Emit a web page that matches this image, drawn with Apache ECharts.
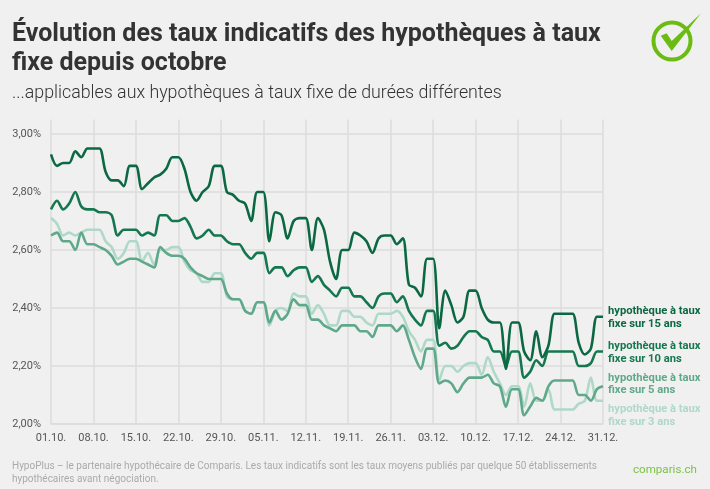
<!DOCTYPE html>
<html>
<head>
<meta charset="utf-8">
<style>
  html, body { margin: 0; padding: 0; background: #f0f0f0; }
  #chart { width: 710px; height: 489px; }
</style>
<script src="https://cdn.jsdelivr.net/npm/echarts@6/dist/echarts.min.js"></script>
</head>
<body>
<div id="chart"></div>
<script>
// 92 days, 01.10. to 31.12.
var months = [['10', 31], ['11', 30], ['12', 31]];
var days = [];
months.forEach(function (m) {
  for (var d = 1; d <= m[1]; d++) {
    days.push((d < 10 ? '0' + d : d) + '.' + m[0] + '.');
  }
});

var y15 = [
  2.93,2.89,2.90,2.90,2.94,2.92,2.95,2.95,2.95,2.87,
  2.84,2.84,2.82,2.89,2.89,2.81,2.83,2.85,2.86,2.88,
  2.92,2.92,2.88,2.80,2.77,2.80,2.82,2.89,2.89,2.80,
  2.79,2.77,2.76,2.70,2.80,2.80,2.63,2.73,2.72,2.64,
  2.70,2.71,2.71,2.60,2.71,2.67,2.56,2.50,2.60,2.60,
  2.66,2.65,2.63,2.59,2.64,2.65,2.65,2.62,2.64,2.48,
  2.47,2.44,2.57,2.57,2.33,2.46,2.41,2.35,2.37,2.46,
  2.46,2.40,2.36,2.35,2.35,2.19,2.35,2.35,2.25,2.22,
  2.32,2.23,2.27,2.38,2.38,2.38,2.38,2.28,2.24,2.26,2.37,2.37
];
var y10 = [
  2.74,2.77,2.74,2.76,2.80,2.75,2.74,2.74,2.73,2.73,
  2.72,2.65,2.67,2.67,2.67,2.65,2.66,2.65,2.72,2.72,
  2.70,2.70,2.71,2.68,2.64,2.65,2.67,2.65,2.65,2.63,
  2.62,2.62,2.59,2.57,2.59,2.59,2.52,2.54,2.54,2.51,
  2.53,2.54,2.54,2.49,2.51,2.48,2.46,2.44,2.47,2.47,
  2.44,2.44,2.42,2.40,2.44,2.45,2.45,2.42,2.44,2.39,
  2.36,2.34,2.39,2.39,2.27,2.28,2.26,2.27,2.30,2.32,
  2.32,2.30,2.29,2.25,2.25,2.20,2.25,2.25,2.16,2.18,
  2.22,2.20,2.25,2.25,2.25,2.25,2.25,2.20,2.20,2.21,2.25,2.25
];
var y5 = [
  2.65,2.66,2.63,2.63,2.60,2.66,2.62,2.62,2.61,2.60,
  2.58,2.55,2.56,2.57,2.57,2.56,2.55,2.54,2.61,2.59,
  2.58,2.58,2.57,2.54,2.52,2.51,2.50,2.50,2.50,2.45,
  2.43,2.43,2.39,2.38,2.42,2.42,2.35,2.39,2.36,2.38,
  2.43,2.41,2.41,2.36,2.36,2.34,2.33,2.32,2.34,2.34,
  2.34,2.32,2.32,2.30,2.34,2.34,2.34,2.32,2.34,2.29,
  2.23,2.19,2.26,2.26,2.14,2.15,2.14,2.11,2.14,2.16,
  2.16,2.16,2.17,2.14,2.13,2.06,2.12,2.12,2.03,2.06,
  2.09,2.08,2.13,2.15,2.15,2.15,2.15,2.10,2.10,2.08,2.12,2.13
];
var y3 = [
  2.71,2.69,2.65,2.66,2.65,2.66,2.67,2.67,2.67,2.63,
  2.61,2.57,2.59,2.63,2.63,2.56,2.59,2.55,2.60,2.60,
  2.61,2.61,2.56,2.53,2.52,2.49,2.49,2.52,2.52,2.44,
  2.43,2.43,2.39,2.38,2.42,2.42,2.34,2.39,2.40,2.39,
  2.45,2.44,2.44,2.38,2.41,2.38,2.34,2.34,2.39,2.39,
  2.37,2.37,2.35,2.34,2.38,2.38,2.38,2.39,2.37,2.32,
  2.29,2.25,2.29,2.29,2.15,2.20,2.20,2.18,2.20,2.21,
  2.21,2.17,2.23,2.18,2.14,2.10,2.13,2.13,2.06,2.14,
  2.08,2.08,2.12,2.05,2.05,2.05,2.05,2.07,2.08,2.16,2.08,2.08
];

var font = 'Roboto';
var chart = echarts.init(document.getElementById('chart'), null, { renderer: 'canvas' });

// one line with its end label, the label is pushed off the line end a bit
function line(name, data, color, dy) {
  return {
    name: name,
    type: 'line',
    data: data,
    symbol: 'none',
    smooth: 0.3,
    lineStyle: { width: 2.6, color: color },
    endLabel: {
      show: true,
      formatter: name,
      offset: [-3, dy],
      color: color,
      fontFamily: font,
      fontWeight: 'bold',
      fontSize: 11.2,
      lineHeight: 12.5,
      align: 'left'
    }
  };
}

var option = {
  backgroundColor: '#f0f0f0',
  animation: false,
  title: [
    { text: 'Évolution des taux indicatifs des hypothèques à taux\nfixe depuis octobre', left: 7, top: 15,
      textStyle: { fontFamily: font, fontWeight: 'bold', fontSize: 25, lineHeight: 29, color: '#333' } },
    { text: '...applicables aux hypothèques à taux fixe de durées différentes', left: 7, top: 80,
      textStyle: { fontFamily: font, fontWeight: 300, fontSize: 17.8, color: '#333' } },
    { text: 'HypoPlus – le partenaire hypothécaire de Comparis. Les taux indicatifs sont les taux moyens publiés par quelque 50 établissements\nhypothécaires avant négociation.', left: 7, top: 455,
      textStyle: { fontFamily: font, fontWeight: 'normal', fontSize: 10, lineHeight: 13, color: '#aaa' } },
    { text: 'comparis.ch', left: 628, top: 459,
      textStyle: { fontFamily: font, fontWeight: 'normal', fontSize: 11.6, color: '#7cc242' } }
  ],
  graphic: [
    { type: 'circle', shape: { cx: 672, cy: 41, r: 18.5 }, style: { fill: 'none', stroke: '#6cbb12', lineWidth: 4 } },
    { type: 'polygon', shape: { points: [[660.7, 35.7], [666.7, 33.3], [671.7, 41], [701, 13.3], [671.7, 51]] }, style: { fill: '#6cbb12' } }
  ],
  grid: { left: 51, right: 107, top: 119.5, bottom: 65 },
  xAxis: {
    type: 'category',
    data: days,
    boundaryGap: false,
    axisLine: { show: true, lineStyle: { color: '#dcdcdc', width: 1.5 } },
    axisTick: { show: false },
    axisLabel: { interval: 6, margin: 9, fontFamily: font, fontSize: 11, color: '#555' },
    splitLine: { show: true, interval: 6, lineStyle: { color: '#dcdcdc', width: 1.5 } }
  },
  yAxis: {
    type: 'value',
    min: 2,
    max: 3.05,
    interval: 0.2,
    axisLine: { show: false },
    axisTick: { show: false },
    axisLabel: {
      showMaxLabel: false,
      margin: 10,
      fontFamily: font,
      fontSize: 11,
      color: '#555',
      formatter: function (v) { return v.toFixed(2).replace('.', ',') + '%'; }
    },
    splitLine: { show: true, showMaxLine: false, lineStyle: { color: '#dcdcdc', width: 1.5 } }
  },
  series: [
    line('hypothèque à taux\nfixe sur 3 ans', y3, '#aed8c7', 15),
    line('hypothèque à taux\nfixe sur 5 ans', y5, '#5fa98a', -2),
    line('hypothèque à taux\nfixe sur 10 ans', y10, '#15774f', 1),
    line('hypothèque à taux\nfixe sur 15 ans', y15, '#0b6843', 1)
  ]
};
chart.setOption(option);
</script>
</body>
</html>
